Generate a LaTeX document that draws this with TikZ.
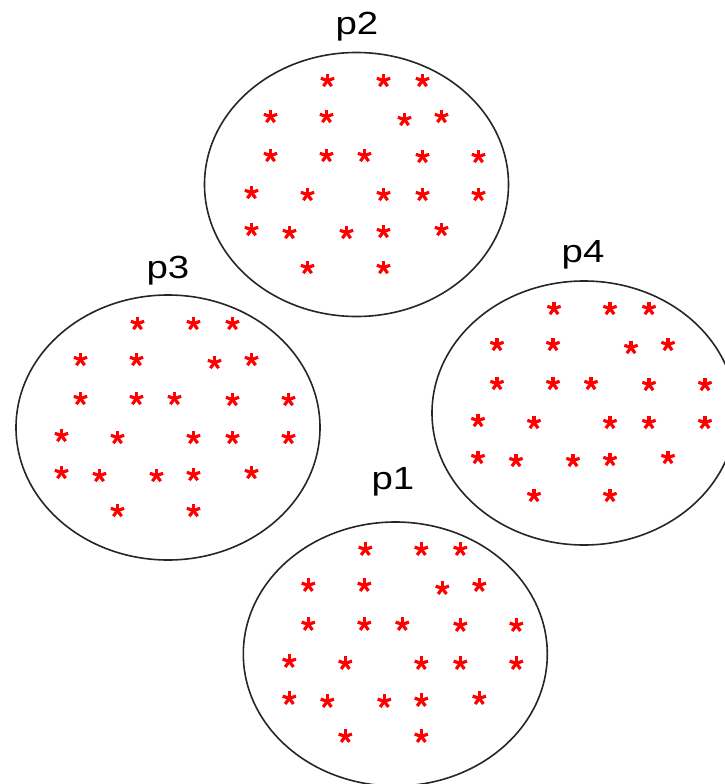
\documentclass[tikz,border=0pt]{standalone}
\usepackage{fontspec}
\setmainfont{Liberation Sans}
\begin{document}
\begin{tikzpicture}[x=1pt,y=-1pt]
\useasboundingbox (0,0) rectangle (725,784);
\tikzset{
  cluster/.style={draw=black!85, line width=1.6pt},
  lab/.style={font=\fontsize{32}{32}\selectfont, anchor=base, inner sep=0pt},
  ast/.pic={\foreach \a in {270,342,54,126,198} \draw[red, line width=3.2pt] (0,0) -- (\a:7);}
}
\newcommand\mystarset[2]{%
  \begin{scope}[shift={(#1,#2)}]
  \foreach \p/\q in {-29/-104,27/-104,66/-104,
    -86/-68,-30/-68,48/-65,85/-68,
    -86/-29,-30/-29,8/-29,66/-28,122/-28,
    -105/8,-49/10,27/10,66/10,122/10,
    -105/45,-67/48,-10/48,27/47,85/45,
    -49/83,27/83}
    \pic at (\p,\q) {ast};
  \end{scope}}
% p2
\draw[cluster] (356.5,184.5) ellipse [x radius=152, y radius=132];
\mystarset{356.5}{184.5}
\node[lab] (l2) at (357,35) {\scalebox{1.2}[1]{p2}};
% p3
\draw[cluster] (168,427.5) ellipse [x radius=152, y radius=132.5];
\mystarset{166.5}{427.5}
\node[lab] (l3) at (168,278) {\scalebox{1.2}[1]{p3}};
% p4
\draw[cluster] (584,413) ellipse [x radius=152, y radius=132];
\mystarset{583}{412.5}
\node[lab] (l4) at (583,262) {\scalebox{1.2}[1]{p4}};
% p1
\draw[cluster] (395.3,654) ellipse [x radius=152, y radius=132];
\mystarset{394.3}{653.3}
\node[lab] (l1) at (393,489) {\scalebox{1.2}[1]{p1}};
\end{tikzpicture}
\end{document}
